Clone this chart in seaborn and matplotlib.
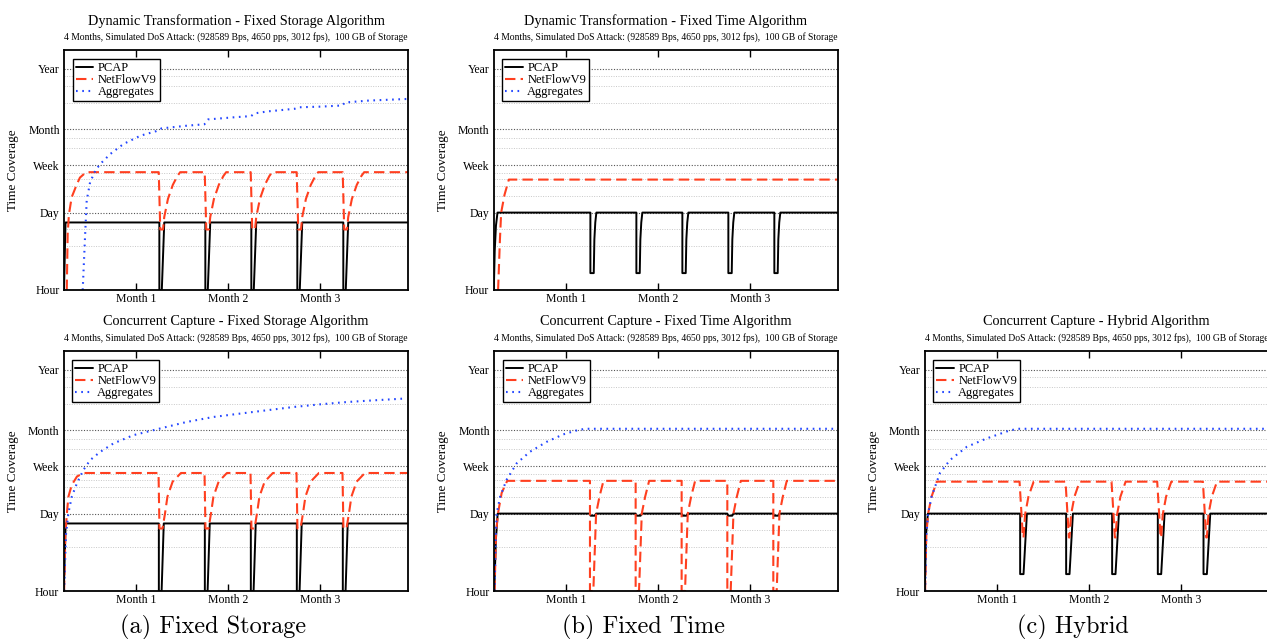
import matplotlib
matplotlib.use("Agg")
import matplotlib.pyplot as plt
from matplotlib.ticker import FixedLocator, NullFormatter
import seaborn as sns

sns.set_theme(style="white")
plt.rcParams["font.family"] = ["Liberation Serif", "DejaVu Serif"]
for key in ["text.color", "axes.labelcolor", "xtick.color", "ytick.color"]:
    plt.rcParams[key] = "black"

# ---------------------------------------------------------------- axes data
month_ticks = [30, 60, 90]
month_labels = ["Month 1", "Month 2", "Month 3"]
level_hours = [1, 24, 168, 730, 8760]
level_labels = ["Hour", "Day", "Week", "Month", "Year"]
minor_hours = [6, 12, 48, 72, 96, 120, 336, 504, 2190, 4380, 6570]

subtitle = ("4 Months, Simulated DoS Attack: (928589 Bps, 4650 pps, 3012 fps),"
            "  100 GB of Storage")

# ------------------------------------ Dynamic Transformation - Fixed Storage
dfs_pcap_day = [6.4, 6.9,
                37.5, 37.5, 38.3, 39.1, 52.5, 52.5, 53.3, 54.1,
                67.5, 67.5, 68.3, 69.1, 82.5, 82.5, 83.3, 84.1,
                97.5, 97.5, 98.3, 99.1, 118.6]
dfs_pcap_hrs = [1, 16,
                16, 1, 1, 16, 16, 1, 1, 16,
                16, 1, 1, 16, 16, 1, 1, 16,
                16, 1, 1, 16, 16]
dfs_netflow_day = [7.3, 7.6, 8.0, 8.9, 10.6, 11.6, 13.6,
                   37.3, 37.8, 38.7, 39.1, 40.3, 41.9, 43.4, 44.3,
                   52.3, 52.8, 53.7, 54.1, 55.3, 56.9, 58.4, 59.3,
                   67.3, 67.8, 68.7, 69.1, 70.3, 71.9, 73.4, 74.3,
                   82.3, 82.8, 83.7, 84.1, 85.3, 86.9, 88.4, 89.3,
                   97.3, 97.8, 98.7, 99.1, 100.3, 101.9, 103.4, 104.3,
                   118.6]
dfs_netflow_hrs = [1, 10, 22, 45, 77, 101, 126,
                   126, 12, 12, 20, 42, 75, 108, 126,
                   126, 12, 12, 20, 42, 75, 108, 126,
                   126, 12, 12, 20, 42, 75, 108, 126,
                   126, 12, 12, 20, 42, 75, 108, 126,
                   126, 12, 12, 20, 42, 75, 108, 126,
                   126]
dfs_aggr_day = [12.5, 13.3, 13.8, 14.9, 16.6, 18.2, 21.5, 25.8, 31.3, 36.5,
                38.2, 46.6, 52.2, 53.4, 61.9, 67.4, 68.6, 72.9, 81.6, 82.8,
                90.3, 97.2, 98.0, 105.6, 118.6]
dfs_aggr_hrs = [1, 9.9, 39, 83, 134, 176, 266, 401, 563, 680,
                760, 851, 900, 1100, 1200, 1260, 1410, 1530, 1700, 1806,
                1860, 1950, 2200, 2380, 2550]

# --------------------------------------- Dynamic Transformation - Fixed Time
dft_pcap_day = [6.5, 6.8, 7.2, 7.7,
                38.0, 38.0, 39.1, 39.3, 39.6, 39.95,
                53.0, 53.0, 54.1, 54.3, 54.6, 54.95,
                68.0, 68.0, 69.1, 69.3, 69.6, 69.95,
                83.0, 83.0, 84.1, 84.3, 84.6, 84.95,
                98.0, 98.0, 99.1, 99.3, 99.6, 99.95,
                118.6]
dft_pcap_hrs = [1, 5, 14, 24,
                24, 2, 2, 8, 16, 24,
                24, 2, 2, 8, 16, 24,
                24, 2, 2, 8, 16, 24,
                24, 2, 2, 8, 16, 24,
                24, 2, 2, 8, 16, 24,
                24]
dft_netflow_day = [7.9, 8.5, 8.9, 10.0, 11.4, 118.6]
dft_netflow_hrs = [1, 8, 24, 50, 93, 93]

# ---------------------------------------- Concurrent Capture - Fixed Storage
cfs_pcap_day = [6.5, 7.1,
                37.5, 37.5, 38.4, 39.1, 52.5, 52.5, 53.4, 54.1,
                67.5, 67.5, 68.4, 69.1, 82.5, 82.5, 83.4, 84.1,
                97.5, 97.5, 98.4, 99.1, 118.6]
cfs_pcap_hrs = [1, 16,
                16, 1, 1, 16, 16, 1, 1, 16,
                16, 1, 1, 16, 16, 1, 1, 16,
                16, 1, 1, 16, 16]
cfs_netflow_day = [6.6, 7.0, 7.5, 8.0, 9.1, 10.8, 12.9,
                   37.4, 37.7, 38.7, 39.5, 40.3, 42.0, 44.7,
                   52.4, 52.7, 53.7, 54.5, 55.3, 57.0, 59.7,
                   67.4, 67.7, 68.7, 69.5, 70.3, 72.0, 74.7,
                   82.4, 82.7, 83.7, 84.5, 85.3, 87.0, 89.7,
                   97.4, 97.7, 98.7, 99.5, 100.3, 102.0, 104.7,
                   118.6]
cfs_netflow_hrs = [1, 10, 24, 48, 78, 110, 127,
                   127, 13, 13, 24, 48, 89, 127,
                   127, 13, 13, 24, 48, 89, 127,
                   127, 13, 13, 24, 48, 89, 127,
                   127, 13, 13, 24, 48, 89, 127,
                   127, 13, 13, 24, 48, 89, 127,
                   127]
cfs_aggr_day = [6.6, 7.2, 8.0, 9.1, 10.8, 12.9, 15.1, 18.4, 22.7, 29.2,
                37.9, 46.6, 55.3, 64.0, 72.7, 81.4, 90.1, 98.8, 107.5, 117.3]
cfs_aggr_hrs = [1, 10, 24.5, 48, 84, 144, 216, 303, 428, 600,
                789, 1033, 1267, 1455, 1667, 1906, 2128, 2338, 2505, 2690]

# ------------------------------------------- Concurrent Capture - Fixed Time
cft_pcap_day = [6.5, 7.0, 7.6,
                37.7, 37.9, 39.3, 39.7, 52.6, 52.8, 54.2, 54.6,
                67.6, 67.8, 69.2, 69.6, 82.5, 82.7, 84.1, 84.5,
                97.5, 97.7, 99.1, 99.5, 118.6]
cft_pcap_hrs = [1, 8, 24,
                24, 22, 22, 24, 24, 22, 22, 24,
                24, 22, 22, 24, 24, 22, 22, 24,
                24, 22, 22, 24, 24]
cft_netflow_day = [6.6, 7.05, 7.8, 8.9, 10.7,
                   37.7, 37.7, 38.8, 39.7, 40.8, 42.1,
                   52.6, 52.6, 53.7, 54.6, 55.7, 57.0,
                   67.6, 67.6, 68.7, 69.6, 70.7, 72.0,
                   82.5, 82.5, 83.6, 84.5, 85.6, 86.9,
                   97.5, 97.5, 98.6, 99.5, 100.6, 101.9,
                   118.6]
cft_netflow_hrs = [1, 10.8, 26, 56, 92,
                   92, 1, 1, 24, 48, 92,
                   92, 1, 1, 24, 48, 92,
                   92, 1, 1, 24, 48, 92,
                   92, 1, 1, 24, 48, 92,
                   92, 1, 1, 24, 48, 92,
                   92]
cft_aggr_day = [6.6, 6.9, 7.3, 8.4, 10.5, 13.8, 18.1, 23.6, 29.0, 33.0, 36.0, 118.6]
cft_aggr_hrs = [1, 8, 24.5, 48, 96, 189, 303, 457, 620, 720, 780, 780]

# ----------------------------------------------- Concurrent Capture - Hybrid
chy_pcap_day = [6.5, 6.9, 7.5,
                37.6, 37.6, 38.7, 39.8, 52.6, 52.6, 53.7, 54.8,
                67.6, 67.6, 68.7, 69.8, 82.5, 82.5, 83.6, 84.7,
                97.4, 97.4, 98.5, 99.6, 118.6]
chy_pcap_hrs = [1, 10, 24,
                24, 2, 2, 24, 24, 2, 2, 24,
                24, 2, 2, 24, 24, 2, 2, 24,
                24, 2, 2, 24, 24]
chy_netflow_day = [6.6, 7.0, 7.6, 8.7, 10.4,
                   37.4, 38.5, 38.7, 39.2, 40.3, 42.0,
                   52.4, 53.5, 53.7, 54.2, 55.3, 57.0,
                   67.4, 68.5, 68.7, 69.2, 70.3, 72.0,
                   82.3, 83.4, 83.6, 84.1, 85.2, 86.9,
                   97.2, 98.3, 98.5, 99.0, 100.1, 101.8,
                   118.6]
chy_netflow_hrs = [1, 10, 24.5, 48, 89,
                   89, 9, 9, 23, 48, 89,
                   89, 9, 9, 23, 48, 89,
                   89, 9, 9, 23, 48, 89,
                   89, 9, 9, 23, 48, 89,
                   89, 9, 9, 23, 48, 89,
                   89]
chy_aggr_day = [6.6, 7.0, 7.6, 8.7, 11.4, 14.7, 20.2, 26.7, 33.3, 36.5, 118.6]
chy_aggr_hrs = [1, 10, 24.5, 48, 126, 216, 372, 525, 700, 780, 780]

# ------------------------------------------------------------------ styling
STYLES = {
    "PCAP": dict(color="black", lw=1.4, linestyle="-"),
    "NetFlowV9": dict(color="#ff3f1f", lw=1.5, linestyle=(0, (5, 2.5))),
    "Aggregates": dict(color="#2346ff", lw=1.5, linestyle=(0, (0.8, 2.2))),
}
W, H = 1267, 639
AX_W, AX_H = 344, 240


def draw_panel(fig, left, top, title, series):
    ax = fig.add_axes([left / W, 1 - (top + AX_H) / H, AX_W / W, AX_H / H])
    ax.set_yscale("log")
    for name in ["PCAP", "NetFlowV9", "Aggregates"]:
        if name in series:
            days, hrs = series[name]
            sns.lineplot(x=days, y=hrs, ax=ax, estimator=None, sort=False,
                         label=name, **STYLES[name])
        else:
            ax.plot([], [], label=name, **STYLES[name])

    ax.set_xlim(6.4, 118.6)
    ax.set_ylim(1, 19000)
    ax.set_xticks(month_ticks)
    ax.set_xticklabels(month_labels)
    ax.set_yticks(level_hours)
    ax.set_yticklabels(level_labels)
    ax.yaxis.set_minor_locator(FixedLocator(minor_hours))
    ax.yaxis.set_minor_formatter(NullFormatter())
    ax.tick_params(axis="x", direction="in", top=True, bottom=True,
                   length=5, width=1, pad=2, labelsize=8.5)
    ax.tick_params(axis="y", which="both", length=0, pad=3, labelsize=8.5)
    ax.grid(False)
    ax.yaxis.grid(True, which="major", linestyle=(0, (1, 1.5)), color="#555555", lw=0.8)
    ax.yaxis.grid(True, which="minor", linestyle=(0, (1, 1.5)), color="#c8c8c8", lw=0.7)
    ax.set_axisbelow(True)
    for sp in ax.spines.values():
        sp.set_visible(True)
        sp.set_color("black")
        sp.set_linewidth(1.3)

    ax.set_xlabel("")
    ax.set_ylabel("Time Coverage", fontsize=9.5)
    ax.yaxis.set_label_coords(-0.13, 0.5)

    ax.annotate(title, xy=(0.5, 1), xycoords="axes fraction", xytext=(0, 21),
                textcoords="offset points", ha="center", va="center", fontsize=10.3)
    ax.annotate(subtitle, xy=(0.5, 1), xycoords="axes fraction", xytext=(0, 9.5),
                textcoords="offset points", ha="center", va="center", fontsize=6.9)

    leg = ax.legend(loc="upper left", fontsize=9, frameon=True, fancybox=False,
                    framealpha=1, edgecolor="black", borderaxespad=0.7,
                    borderpad=0.25, labelspacing=0.0, handlelength=1.4,
                    handletextpad=0.35)
    leg.get_frame().set_linewidth(1.0)
    return ax


fig = plt.figure(figsize=(W / 100, H / 100), dpi=100)

draw_panel(fig, 64, 50, "Dynamic Transformation - Fixed Storage Algorithm", {
    "PCAP": (dfs_pcap_day, dfs_pcap_hrs),
    "NetFlowV9": (dfs_netflow_day, dfs_netflow_hrs),
    "Aggregates": (dfs_aggr_day, dfs_aggr_hrs),
})
draw_panel(fig, 493.5, 50, "Dynamic Transformation - Fixed Time Algorithm", {
    "PCAP": (dft_pcap_day, dft_pcap_hrs),
    "NetFlowV9": (dft_netflow_day, dft_netflow_hrs),
})
draw_panel(fig, 63.5, 351, "Concurrent Capture - Fixed Storage Algorithm", {
    "PCAP": (cfs_pcap_day, cfs_pcap_hrs),
    "NetFlowV9": (cfs_netflow_day, cfs_netflow_hrs),
    "Aggregates": (cfs_aggr_day, cfs_aggr_hrs),
})
draw_panel(fig, 494, 351, "Concurrent Capture - Fixed Time Algorithm", {
    "PCAP": (cft_pcap_day, cft_pcap_hrs),
    "NetFlowV9": (cft_netflow_day, cft_netflow_hrs),
    "Aggregates": (cft_aggr_day, cft_aggr_hrs),
})
draw_panel(fig, 924.5, 351, "Concurrent Capture - Hybrid Algorithm", {
    "PCAP": (chy_pcap_day, chy_pcap_hrs),
    "NetFlowV9": (chy_netflow_day, chy_netflow_hrs),
    "Aggregates": (chy_aggr_day, chy_aggr_hrs),
})

captions = ["(a) Fixed Storage", "(b) Fixed Time", "(c) Hybrid"]
caption_x = [213, 643, 1073]
for text, cx in zip(captions, caption_x):
    fig.text(cx / W, 1 - 627 / H, text, family="cmr10", fontsize=17.5,
             ha="center", va="center")

fig.savefig("out.png", dpi=100)
